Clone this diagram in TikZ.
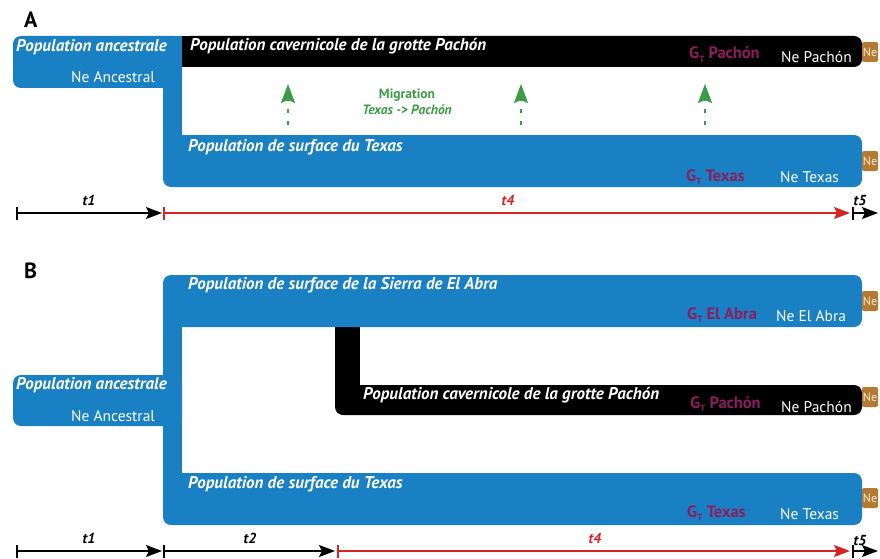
\documentclass[tikz,border=0pt]{standalone}
\usepackage{fontspec}
\setmainfont{PT Sans}
\usepackage{tikz}
\usetikzlibrary{arrows.meta}
\definecolor{popblue}{RGB}{26,128,196}
\definecolor{gtpurple}{RGB}{140,30,95}
\definecolor{miggreen}{RGB}{60,155,70}
\definecolor{nebrown}{RGB}{178,122,52}
\definecolor{necream}{RGB}{250,235,205}
\definecolor{timered}{RGB}{215,35,40}
\newcommand{\gtsub}{G\raisebox{-0.45ex}{\fontsize{9}{10}\selectfont T}}

\tikzset{
  poptitle/.style={anchor=base west, white, inner sep=0, font=\fontsize{17}{19}\selectfont\bfseries\itshape},
  nelabel/.style={anchor=base west, white, inner sep=0, font=\fontsize{15.5}{17}\selectfont},
  gtlabel/.style={anchor=base west, gtpurple, inner sep=0, font=\fontsize{16.5}{18}\selectfont\bfseries},
  nebox/.style={fill=nebrown, rounded corners=2pt, minimum width=16pt, minimum height=20pt, inner sep=0, text=necream, font=\fontsize{12}{13}\selectfont},
  migtitle/.style={anchor=base, miggreen, inner sep=0, font=\fontsize{13.5}{15}\selectfont\bfseries},
  tlabel/.style={anchor=base, inner sep=0, font=\fontsize{14.5}{16}\selectfont\bfseries\itshape},
  tline/.style={line width=1.3pt, {Bar[width=13pt,line width=1.5pt]}-{Stealth[length=16pt,width=12pt,inset=3pt]}},
  migarrow/.style={miggreen, line width=1.5pt, dash pattern=on 4pt off 8pt, -{Stealth[length=19pt,width=14pt,inset=3pt]}},
  panel/.style={anchor=base west, inner sep=0, font=\fontsize{22}{24}\selectfont\bfseries}
}

\begin{document}
\begin{tikzpicture}[x=1pt, y=-1pt]
  \useasboundingbox (0,0) rectangle (880,559);

  % A: shapes
  \fill[popblue, rounded corners=8pt] (13,36) rectangle (182,88);
  \fill[popblue, rounded corners=8pt] (163,135) rectangle (862,187);
  \fill[popblue] (163,36) rectangle (182,160);
  \fill[black, rounded corners=8pt] (182,36) rectangle (862,67);
  \fill[black] (182,36) rectangle (200,67);

  \node[panel] (panelA) at (24,28) {A};
  \node[poptitle] (ancA) at (16,52) {Population ancestrale};
  \node[nelabel] (neancA) at (71,83) {Ne Ancestral};
  \node[poptitle] (caveA) at (190,51) {Population cavernicole de la grotte Pachón};
  \node[gtlabel] (gtcaveA) at (689,59) {\gtsub{} Pachón};
  \node[nelabel] (necaveA) at (781,63) {Ne Pachón};
  \node[nebox] (boxcaveA) at (870,52) {Ne};
  \node[poptitle] (texA) at (188,151) {Population de surface du Texas};
  \node[gtlabel] (gttexA) at (686,181) {\gtsub{} Texas};
  \node[nelabel] (netexA) at (780,182) {Ne Texas};
  \node[nebox] (boxtexA) at (870,161) {Ne};

  % migration
  \node[migtitle] (migA) at (407,99) {Migration};
  \node[migtitle, font=\fontsize{13.5}{15}\selectfont\bfseries\itshape] (migdirA) at (407,114) {Texas -> Pachón};
  \foreach \mx [count=\i] in {288,521,705} {
    \coordinate (migfoot\i) at (\mx,125);
    \coordinate (mighead\i) at (\mx,84);
    \draw[migarrow] (migfoot\i) -- (mighead\i);
  }

  % A: time
  \coordinate (tA0) at (16,213);
  \coordinate (tA1) at (162,213);
  \coordinate (tA1r) at (163,213);
  \coordinate (tA2) at (850,213);
  \coordinate (tA3) at (852,213);
  \coordinate (tA4) at (878,213);
  \draw[tline] (tA0) -- (tA1);
  \draw[tline, timered] (tA1r) -- (tA2);
  \draw[tline] (tA3) -- (tA4);
  \node[tlabel] (t1A) at (89,205) {t1};
  \node[tlabel, timered] (t4A) at (508,205) {t4};
  \node[tlabel] (t5A) at (860,205) {t5};

  % B: shapes
  \fill[black, rounded corners=8pt] (335,385) rectangle (862,415);
  \fill[black] (335,300) rectangle (360,400);
  \fill[popblue, rounded corners=8pt] (163,275) rectangle (862,327);
  \fill[popblue, rounded corners=8pt] (13,375) rectangle (182,426);
  \fill[popblue, rounded corners=8pt] (163,473) rectangle (862,525);
  \fill[popblue] (163,290) rectangle (182,510);

  \node[panel] (panelB) at (24,278) {B};
  \node[poptitle] (abraB) at (188,289) {Population de surface de la Sierra de El Abra};
  \node[gtlabel] (gtabraB) at (687,319) {\gtsub{} El Abra};
  \node[nelabel] (neabraB) at (776,321) {Ne El Abra};
  \node[nebox] (boxabraB) at (870,301) {Ne};
  \node[poptitle] (caveB) at (363,399) {Population cavernicole de la grotte Pachón};
  \node[gtlabel] (gtcaveB) at (690,408) {\gtsub{} Pachón};
  \node[nelabel] (necaveB) at (781,412) {Ne Pachón};
  \node[nebox] (boxcaveB) at (870,397) {Ne};
  \node[poptitle] (ancB) at (16,389) {Population ancestrale};
  \node[nelabel] (neancB) at (71,421) {Ne Ancestral};
  \node[poptitle] (texB) at (188,488) {Population de surface du Texas};
  \node[gtlabel] (gttexB) at (687,517) {\gtsub{} Texas};
  \node[nelabel] (netexB) at (780,519) {Ne Texas};
  \node[nebox] (boxtexB) at (870,498) {Ne};

  % B: time
  \coordinate (tB0) at (16,551);
  \coordinate (tB1) at (162,551);
  \coordinate (tB1b) at (163,551);
  \coordinate (tB2) at (335,551);
  \coordinate (tB2r) at (337,551);
  \coordinate (tB3) at (850,551);
  \coordinate (tB4) at (852,551);
  \coordinate (tB5) at (878,551);
  \draw[tline] (tB0) -- (tB1);
  \draw[tline] (tB1b) -- (tB2);
  \draw[tline, timered] (tB2r) -- (tB3);
  \draw[tline] (tB4) -- (tB5);
  \node[tlabel] (t1B) at (89,543) {t1};
  \node[tlabel] (t2B) at (250,543) {t2};
  \node[tlabel, timered] (t4B) at (595,543) {t4};
  \node[tlabel] (t5B) at (860,545) {t5};
\end{tikzpicture}
\end{document}
